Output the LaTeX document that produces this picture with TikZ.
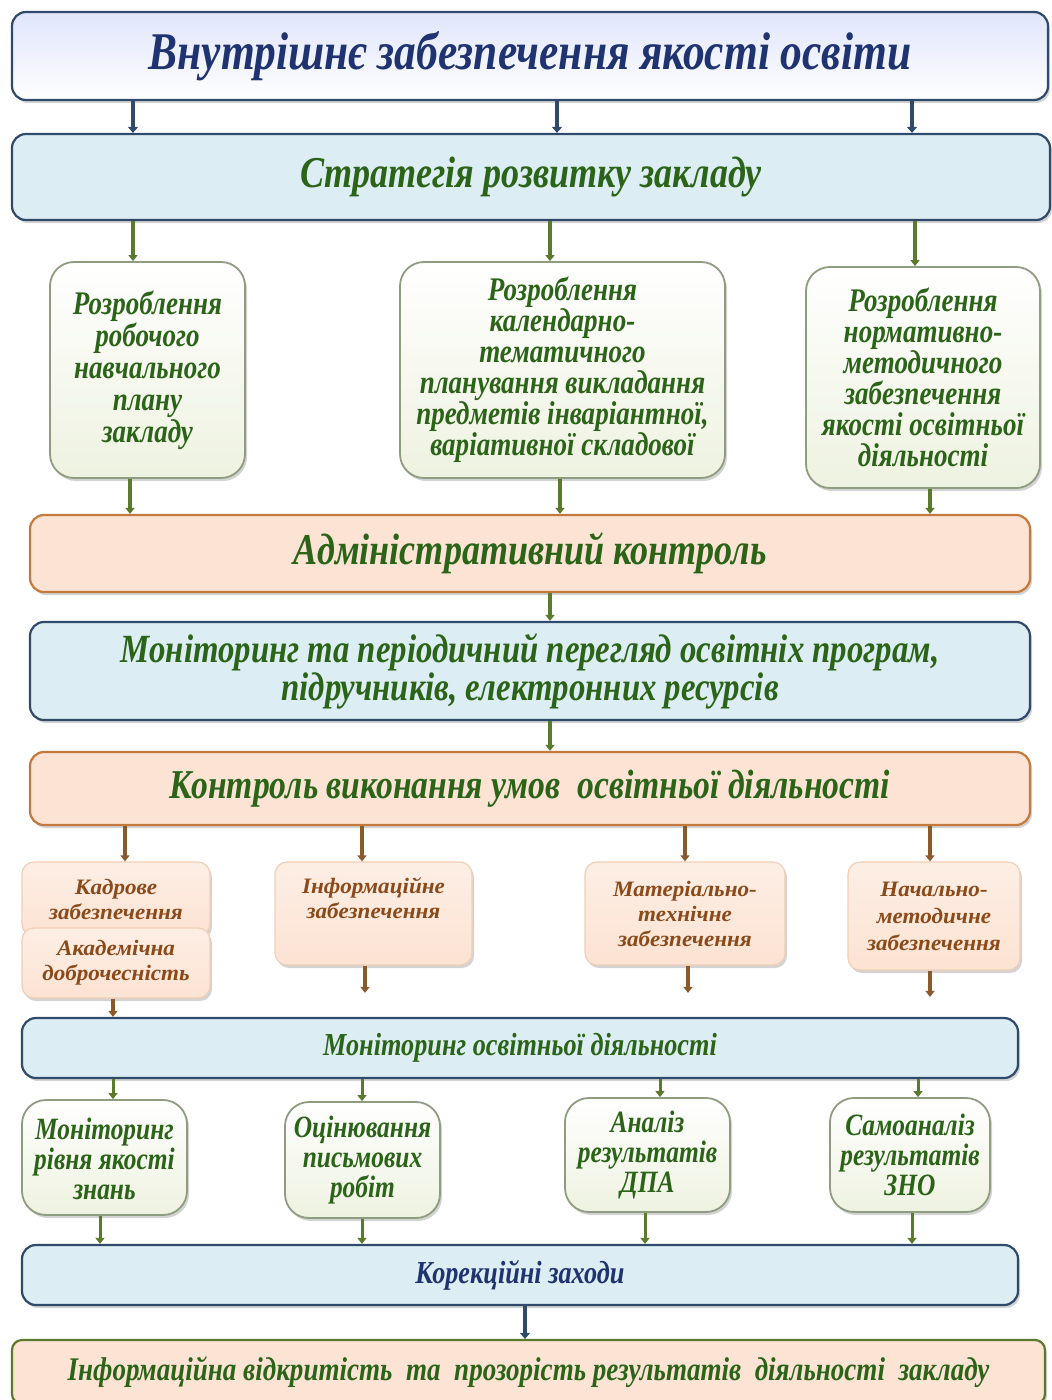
\documentclass[tikz,border=0pt]{standalone}
\usepackage{fontspec}
\setmainfont{Liberation Serif}[FakeStretch=0.82]
\newfontfamily\widefont{Liberation Serif}[FakeStretch=1.05]
\usetikzlibrary{arrows.meta,shadows}
\definecolor{dblue}{HTML}{1F3370}
\definecolor{bborder}{HTML}{2F4A6B}
\definecolor{bfill}{HTML}{DCEDF3}
\definecolor{gtext}{HTML}{2B6418}
\definecolor{garrow}{HTML}{5B7A2C}
\definecolor{pfill}{HTML}{FCE3D3}
\definecolor{pborder}{HTML}{C47A3F}
\definecolor{btext}{HTML}{8A4A1A}
\definecolor{barrow}{HTML}{8B5A2B}
\definecolor{gfill}{HTML}{EEF2E0}
\definecolor{gborder}{HTML}{8E9C80}
\tikzset{
  every node/.style={align=center, inner sep=0pt},
  box/.style={draw, line width=2.2pt, rounded corners=14pt, drop shadow={shadow xshift=2pt, shadow yshift=-3pt, opacity=0.35}},
  bluebox/.style={box, draw=bborder, fill=bfill, text=gtext},
  topbox/.style={box, draw=bborder, top color=bfill!80!blue!40, bottom color=white, text=dblue},
  peachbox/.style={box, draw=pborder, fill=pfill, text=gtext},
  smallpeach/.style={box, draw=pfill!80!pborder, line width=1.2pt, top color=pfill!60, bottom color=pfill, text=btext, rounded corners=12pt},
  greenbox/.style={box, draw=gborder, line width=1.8pt, top color=white, bottom color=gfill, text=gtext, rounded corners=24pt},
  botbox/.style={box, draw=garrow, fill=pfill, text=gtext, rounded corners=10pt},
  barr/.style={-{Triangle[width=10pt,length=6pt]}, line width=4pt, draw=bborder},
  garr/.style={-{Triangle[width=9pt,length=6pt]}, line width=4pt, draw=garrow},
  oarr/.style={-{Triangle[width=9pt,length=6pt]}, line width=4pt, draw=barrow},
}
% style, x1, y1, x2, y2, name, size, skip
\newcommand{\bx}[8]{\node[#1, minimum width=#4-#2, minimum height=#5-#3, font=\bfseries\itshape\fontsize{#7}{#8}\selectfont] (#6) at ({(#2+#4)/2},{(#3+#5)/2})}
\begin{document}
\begin{tikzpicture}[x=1pt,y=-1pt]
\useasboundingbox (0,0) rectangle (1052,1400);
% top
\bx{topbox}{12}{12}{1048}{100}{top}{53}{58} {Внутрішнє забезпечення якості освіти};
\bx{bluebox}{12}{134}{1050}{220}{strat}{44}{48} {Стратегія розвитку закладу};
% green boxes
\bx{greenbox}{50}{262}{245}{478}{g1}{33}{32} {Розроблення\\робочого\\навчального\\плану\\закладу};
\bx{greenbox}{400}{262}{725}{478}{g2}{33}{31} {Розроблення\\календарно-\\тематичного\\планування викладання\\предметів інваріантної,\\варіативної складової};
\bx{greenbox}{806}{267}{1040}{488}{g3}{33}{31} {Розроблення\\нормативно-\\методичного\\забезпечення\\якості освітньої\\діяльності};
\bx{peachbox}{30}{515}{1030}{592}{adm}{44}{48} {Адміністративний контроль};
\bx{bluebox}{30}{622}{1030}{720}{mon}{40}{38} {Моніторинг та періодичний перегляд освітніх програм,\\підручників, електронних ресурсів};
\bx{peachbox}{30}{752}{1030}{825}{ctl}{41}{45} {Контроль виконання умов\ \ освітньої діяльності};
% small peach
\bx{smallpeach}{22}{862}{210}{936}{p1}{22}{25} {\widefont Кадрове\\\widefont забезпечення};
\bx{smallpeach}{22}{928}{210}{998}{p1b}{22}{25} {\widefont Академічна\\\widefont доброчесність};
\bx{smallpeach}{275}{862}{472}{965}{p2}{22}{25} {\widefont Інформаційне\\\widefont забезпечення\\[6pt]};
\bx{smallpeach}{585}{862}{785}{965}{p3}{22}{25} {\widefont Матеріально-\\\widefont технічне\\\widefont забезпечення};
\bx{smallpeach}{848}{862}{1020}{970}{p4}{22}{27} {\widefont Начально-\\\widefont методичне\\\widefont забезпечення};
\bx{bluebox}{22}{1018}{1018}{1078}{mod}{32}{36} {Моніторинг освітньої діяльності};
% bottom green
\bx{greenbox}{22}{1100}{187}{1215}{q1}{31}{30} {\\[-6pt]Моніторинг\\рівня якості\\знань};
\bx{greenbox}{285}{1102}{440}{1218}{q2}{31}{30} {Оцінювання\\письмових\\робіт};
\bx{greenbox}{565}{1098}{730}{1212}{q3}{31}{30} {Аналіз\\результатів\\ДПА};
\bx{greenbox}{830}{1098}{990}{1212}{q4}{31}{30} {Самоаналіз\\результатів\\ЗНО};
\bx{bluebox}{22}{1245}{1018}{1305}{kor}{32}{36} {\color{dblue}Корекційні заходи};
\bx{botbox}{12}{1340}{1045}{1404}{inf}{33}{36} {Інформаційна відкритість\ \ та\ \ прозорість\ результатів\ \ діяльності\ \ закладу};
% arrows
\foreach \x in {133,557,912} \draw[barr] (top.south -| \x,0) -- (strat.north -| \x,0);
\draw[garr] (strat.south -| 133,0) -- (g1.north -| 133,0);
\draw[garr] (strat.south -| 550,0) -- (g2.north -| 550,0);
\draw[garr] (strat.south -| 915,0) -- (g3.north -| 915,0);
\draw[garr] (g1.south -| 130,0) -- (adm.north -| 130,0);
\draw[garr] (g2.south -| 560,0) -- (adm.north -| 560,0);
\draw[garr] (g3.south -| 930,0) -- (adm.north -| 930,0);
\draw[garr] (adm.south -| 550,0) -- (mon.north -| 550,0);
\draw[garr] (mon.south -| 550,0) -- (ctl.north -| 550,0);
\draw[oarr] (ctl.south -| 125,0) -- (p1.north -| 125,0);
\draw[oarr] (ctl.south -| 362,0) -- (p2.north -| 362,0);
\draw[oarr] (ctl.south -| 685,0) -- (p3.north -| 685,0);
\draw[oarr] (ctl.south -| 930,0) -- (p4.north -| 930,0);
\draw[oarr] (p1b.south -| 113,0) -- (mod.north -| 113,0);
\draw[oarr, shorten >=24pt] (p2.south -| 365,0) -- (mod.north -| 365,0);
\draw[oarr, shorten >=24pt] (p3.south -| 688,0) -- (mod.north -| 688,0);
\draw[oarr, shorten >=20pt] (p4.south -| 930,0) -- (mod.north -| 930,0);
\draw[garr, line width=3pt] (mod.south -| 113,0) -- (q1.north -| 113,0);
\draw[garr, line width=3pt] (mod.south -| 362,0) -- (q2.north -| 362,0);
\draw[garr, line width=3pt] (mod.south -| 660,0) -- (q3.north -| 660,0);
\draw[garr, line width=3pt] (mod.south -| 918,0) -- (q4.north -| 918,0);
\draw[garr, line width=3pt] (q1.south -| 100,0) -- (kor.north -| 100,0);
\draw[garr, line width=3pt] (q2.south -| 362,0) -- (kor.north -| 362,0);
\draw[garr, line width=3pt] (q3.south -| 645,0) -- (kor.north -| 645,0);
\draw[garr, line width=3pt] (q4.south -| 912,0) -- (kor.north -| 912,0);
\draw[barr] (kor.south -| 525,0) -- (inf.north -| 525,0);
\end{tikzpicture}
\end{document}
